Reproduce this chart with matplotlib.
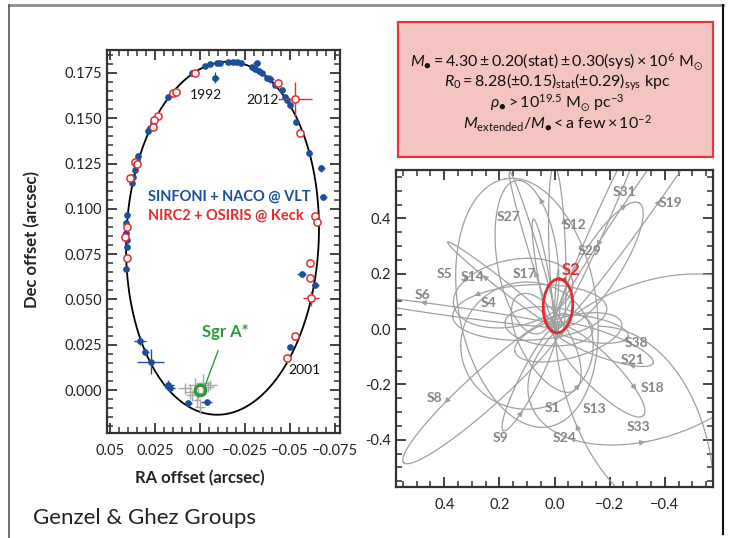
import numpy as np
import matplotlib
matplotlib.use("Agg")
import matplotlib.pyplot as plt
from matplotlib.lines import Line2D
from matplotlib.patches import Rectangle
from matplotlib.ticker import MultipleLocator

plt.rcParams["font.family"] = ["Lato", "DejaVu Sans"]
plt.rcParams["mathtext.fontset"] = "custom"
plt.rcParams["mathtext.rm"] = "Lato"
plt.rcParams["mathtext.it"] = "Lato:italic"
plt.rcParams["mathtext.bf"] = "Lato:bold"
plt.rcParams["mathtext.fallback"] = "stixsans"

BLUE = "#1c4f9a"
RED = "#e42b2f"
GREEN = "#2f9a3c"
GREY = "#a0a0a0"
LABEL_GREY = "#858585"
DOT = "\u25cf"

# --- S2 sky-projected orbit: centre, major, minor, angle of major axis (arcsec, deg)
s2_orbit = (-0.0125, 0.0838, 0.195, 0.107, 92.5)

# VLT astrometry (RA, Dec, errors) in arcsec
vlt_ra = [0.0046, -0.0028, -0.0056, -0.0093, -0.0112, -0.0156, -0.0184, -0.0206, -0.0227,
          -0.0291, -0.0306, -0.0325, -0.0343, -0.0371, -0.0390, -0.0417, -0.0455, -0.0473,
          -0.0486, -0.0501, -0.0534, -0.0608, -0.0673, -0.0686, -0.0084, -0.0316,
          0.0176, 0.0255, 0.0262, 0.0278, 0.0287, 0.0343, 0.0348, 0.0355, 0.0361, 0.0370,
          0.0376, 0.0404, 0.0411, 0.0411, 0.0407, 0.0405, 0.0411,
          -0.0566, -0.0640, -0.0501, 0.0333, 0.0305, 0.0274, 0.0176, 0.0167, 0.0065, -0.0038]
vlt_dec = [0.1750, 0.1789, 0.1798, 0.1803, 0.1807, 0.1810, 0.1810, 0.1809, 0.1803,
           0.1785, 0.1772, 0.1763, 0.1748, 0.1720, 0.1717, 0.1684, 0.1656, 0.1619,
           0.1601, 0.1573, 0.1481, 0.1310, 0.1224, 0.1064, 0.1724, 0.1803,
           0.1615, 0.1494, 0.1475, 0.1444, 0.1431, 0.1292, 0.1270, 0.1242, 0.1214, 0.1177,
           0.1141, 0.0966, 0.0923, 0.0865, 0.0828, 0.0791, 0.0666,
           0.0640, 0.0580, 0.0239, 0.0272, 0.0211, 0.0156, 0.0028, 0.0009, -0.0074, -0.0064]
vlt_ra_err = [0, 0, 0, 0, 0, 0, 0, 0, 0, 0, 0, 0, 0, 0, 0.002, 0, 0.0015, 0, 0, 0, 0,
              0.0015, 0.002, 0.002, 0.002, 0.002, 0, 0, 0, 0, 0, 0, 0, 0, 0, 0, 0,
              0, 0, 0, 0, 0, 0, 0.0025, 0.002, 0.0015, 0.0035, 0.002, 0.0075, 0.003,
              0.003, 0.002, 0.003]
vlt_dec_err = [0, 0, 0, 0, 0, 0, 0, 0, 0, 0, 0, 0, 0, 0, 0.002, 0, 0.0015, 0, 0, 0, 0,
               0.0015, 0.002, 0.0015, 0.003, 0.0015, 0, 0, 0, 0, 0, 0, 0, 0, 0, 0, 0,
               0, 0, 0, 0, 0, 0, 0.0015, 0.0015, 0.001, 0.0025, 0.002, 0.007, 0.003,
               0.002, 0.002, 0.001]

# Keck astrometry
keck_ra = [0.0027, 0.0148, 0.0135, 0.0231, 0.0255, 0.0263, 0.0361, 0.0352, 0.0389, 0.0407,
           0.0417, 0.0407, -0.0436, -0.0529, -0.0556, -0.0640, -0.0649, -0.0612, -0.0612,
           -0.0618, -0.0529, -0.0486]
keck_dec = [0.1750, 0.1638, 0.1647, 0.1512, 0.1490, 0.1450, 0.1260, 0.1248, 0.1168, 0.0902,
            0.0843, 0.0727, 0.1696, 0.1606, 0.1420, 0.0960, 0.0929, 0.0699, 0.0617,
            0.0506, 0.0300, 0.0178]
keck_ra_err = [0, 0, 0, 0, 0, 0, 0, 0, 0, 0, 0, 0, 0, 0.0093, 0, 0.002, 0, 0, 0, 0.0045, 0, 0]
keck_dec_err = [0, 0, 0, 0, 0, 0, 0, 0, 0, 0, 0, 0, 0, 0.0095, 0, 0, 0, 0.002, 0, 0.004, 0, 0]

# Sgr A* infrared flare positions
flare_ra = [0.0083, 0.0055, 0.0027, 0.0009, -0.0019, -0.0047, 0.0018, 0.0000, 0.0046, -0.0056]
flare_dec = [0.0009, -0.0009, 0.0028, -0.0018, 0.0037, 0.0018, -0.0055, -0.0092, -0.0028, 0.0028]
flare_ra_err = [0.004, 0.003, 0.004, 0.003, 0.004, 0.003, 0.002, 0.003, 0.003, 0.004]
flare_dec_err = [0.003, 0.004, 0.004, 0.003, 0.005, 0.003, 0.004, 0.004, 0.003, 0.003]

year_labels = ["1992", "2012", "2001"]
year_ra = [-0.0034, -0.0345, -0.0579]
year_dec = [0.163, 0.160, 0.011]

# --- S-star orbits (right panel): centre, major, minor, angle (closed ellipses)
orbit_names = ["S1", "S13", "S4", "S5", "S6", "S8", "S9", "S12", "S14", "S17", "S18",
               "S19", "S21", "S27", "S29", "S31", "S33", "S38", "", "", "", ""]
orbit_cx = [0.10, 0.10, 0.09, 0.15, 0.40, 0.25, 0.09, -0.01, 0.19, 0.075, -0.16,
            -0.36, -0.17, 0.10, -0.16, -0.17, -0.36, -0.12, 0.02, -0.05, 0.03, 0.04]
orbit_cy = [0.095, -0.06, 0.06, 0.13, 0.068, -0.215, -0.18, 0.28, 0.16, 0.28, -0.15,
            0.52, -0.055, 0.26, 0.37, 0.235, -0.11, 0.0, 0.01, -0.03, -0.05, 0.19]
orbit_major = [0.91, 0.48, 0.56, 0.44, 0.86, 0.80, 0.42, 0.62, 0.50, 0.60, 0.46,
               1.30, 0.40, 0.56, 0.82, 0.52, 0.95, 0.30, 0.32, 0.40, 0.40, 0.42]
orbit_minor = [0.50, 0.46, 0.20, 0.24, 0.035, 0.13, 0.07, 0.06, 0.035, 0.035, 0.12,
               0.10, 0.09, 0.22, 0.05, 0.15, 0.56, 0.09, 0.14, 0.15, 0.18, 0.04]
orbit_angle = [80, 0, -3, -12, 8, -42, -63, 88, 38, 73, 225,
               125, 200, 82, 114, 122, -20, 190, 5, -15, 60, 80]

# open orbit arcs: centre, major, minor, angle, parameter span
arc_names = ["S24", ""]
arc_cx = [-0.60, -0.16]
arc_cy = [0.05, -0.62]
arc_major = [1.20, 0.84]
arc_minor = [1.60, 1.26]
arc_angle = [0.0, 0.0]
arc_t0 = [-62, 90]
arc_t1 = [12, 185]

label_names = ["S1", "S2", "S4", "S5", "S6", "S8", "S9", "S12", "S13", "S14", "S17", "S18",
               "S19", "S21", "S24", "S27", "S29", "S31", "S33", "S38"]
label_x = [0.007, -0.058, 0.24, 0.40, 0.48, 0.436, 0.196, -0.073, -0.145, 0.298, 0.109, -0.356,
           -0.42, -0.284, -0.036, 0.167, -0.127, -0.255, -0.305, -0.298]
label_y = [-0.286, 0.213, 0.094, 0.20, 0.123, -0.25, -0.395, 0.376, -0.29, 0.188, 0.20, -0.213,
           0.455, -0.112, -0.395, 0.405, 0.282, 0.495, -0.355, -0.050]

# direction-of-motion arrows: orbit, anchor point, heading (data units)
arrow_orbit = ["S2", "S4", "S5", "S6", "S8", "S9", "S12", "S13", "S14", "S17", "S18",
               "S19", "S21", "S24", "S27", "S29", "S31", "S33", "S38"]
arrow_x = [-0.044, 0.287, 0.356, 0.473, 0.39, 0.12, -0.022, -0.127, 0.255, 0.073, -0.295,
           -0.356, -0.273, -0.076, 0.12, -0.167, -0.247, -0.31, -0.247]
arrow_y = [0.166, 0.127, 0.20, 0.094, -0.26, -0.30, 0.39, -0.24, 0.188, 0.20, -0.213,
           0.463, -0.141, -0.376, 0.43, 0.307, 0.463, -0.39, -0.04]
arrow_dx = [-0.3, 1, 1, 1, 1, -0.5, 0, 0, 1, 0.3, 0, -0.6, 1, 0.3, 0, 0.5, -1, -1, 0]
arrow_dy = [-1, 0, -0.5, 0, -1, 1, 1, 1, 1, 1, -1, 1, 0, 1, 1, -1, 0, 0, -1]


def orbit_xy(cx, cy, major, minor, ang, t_deg):
    t = np.radians(t_deg)
    a = np.radians(ang)
    u = 0.5 * major * np.cos(t)
    v = 0.5 * minor * np.sin(t)
    return cx + u * np.cos(a) - v * np.sin(a), cy + u * np.sin(a) + v * np.cos(a)


def style_axes(ax):
    for sp in ax.spines.values():
        sp.set_color("#333333")
        sp.set_linewidth(1.6)
    ax.tick_params(which="both", direction="in", top=True, right=True,
                   colors="#333333", labelcolor="#222222", labelsize=10.5)
    ax.tick_params(which="major", length=7, width=1.3)
    ax.tick_params(which="minor", length=4, width=1.1)


fig = plt.figure(figsize=(7.32, 5.38), dpi=100)

# slide frame
fig.add_artist(Line2D([0.0123, 0.9877], [0.9907, 0.9907], transform=fig.transFigure,
                      color="#8c8c8c", lw=2))
fig.add_artist(Line2D([0.0123, 0.0123], [0.0, 0.9907], transform=fig.transFigure,
                      color="#555555", lw=1.2))
fig.add_artist(Line2D([0.9877, 0.9877], [0.008, 0.9907], transform=fig.transFigure,
                      color="#111111", lw=1.5))

# ---------------- left panel: S2 orbit ----------------
ax1 = fig.add_axes([0.1462, 0.1952, 0.3183, 0.7119])
tt = np.linspace(0, 360, 721)
ex, ey = orbit_xy(*s2_orbit, tt)
ax1.plot(ex, ey, color="black", lw=1.3, zorder=2)

ax1.errorbar(flare_ra, flare_dec, xerr=flare_ra_err, yerr=flare_dec_err, fmt="none",
             ecolor="#a8a8a8", elinewidth=1.0, zorder=3)
ax1.errorbar(vlt_ra, vlt_dec, xerr=vlt_ra_err, yerr=vlt_dec_err, fmt="o", ms=3.8,
             color=BLUE, ecolor=BLUE, elinewidth=1.0, zorder=4)
ax1.errorbar(keck_ra, keck_dec, xerr=keck_ra_err, yerr=keck_dec_err, fmt="o", ms=5.2,
             mfc="white", mec=RED, mew=1.1, ecolor=RED, elinewidth=1.0, zorder=5)
ax1.plot([0], [0], "o", ms=7.5, mfc="none", mec=GREEN, mew=2.4, zorder=6)

for lab, x, y in zip(year_labels, year_ra, year_dec):
    ax1.text(x, y, lab, fontsize=10, ha="center", va="center", color="#111111")

ax1.annotate("Sgr A*", xy=(-0.0023, 0.0011), xytext=(-0.0139, 0.032), color=GREEN,
             fontsize=12, fontweight="bold", ha="center", va="center",
             arrowprops=dict(arrowstyle="-", color=GREEN, lw=1.0, shrinkA=6, shrinkB=1))
ax1.text(0.0289, 0.1065, "SINFONI + NACO @ VLT", color=BLUE, fontsize=10.5,
         fontweight="bold", ha="left", va="center")
ax1.text(0.0289, 0.0960, "NIRC2 + OSIRIS @ Keck", color=RED, fontsize=10.5,
         fontweight="bold", ha="left", va="center")

ax1.set_xlim(0.0517, -0.0778)
ax1.set_ylim(-0.0237, 0.1877)
ax1.set_xticks([0.05, 0.025, 0.0, -0.025, -0.05, -0.075])
ax1.set_xticklabels(["0.05", "0.025", "0.00", "\u22120.025", "\u22120.05", "\u22120.075"])
ax1.set_yticks([0.0, 0.025, 0.05, 0.075, 0.1, 0.125, 0.15, 0.175])
ax1.set_yticklabels(["0.000", "0.025", "0.050", "0.075", "0.100", "0.125", "0.150", "0.175"])
ax1.xaxis.set_minor_locator(MultipleLocator(0.005))
ax1.yaxis.set_minor_locator(MultipleLocator(0.005))
style_axes(ax1)
ax1.tick_params(axis="x", pad=8)

fig.text(200 / 732, 1 - 478 / 538, "RA offset (arcsec)", fontsize=12, fontweight="bold",
         ha="center", va="center", color="#222222")
fig.text(32 / 732, 1 - 240 / 538, "Dec offset (arcsec)", fontsize=12, fontweight="bold",
         ha="center", va="center", rotation=90, color="#222222")

# ---------------- summary box ----------------
fig.add_artist(Rectangle((0.5437, 0.7082), 0.4303, 0.2509, transform=fig.transFigure,
                         facecolor="#f4c4c0", edgecolor="#e0393e", lw=1.6))
box_lines = [
    "$M_{" + DOT + "} = 4.30 \\pm 0.20(\\mathrm{stat}) \\pm 0.30(\\mathrm{sys})"
    " \\times 10^{6}\\ \\mathrm{M}_{\\odot}$",
    "$R_{0} = 8.28(\\pm 0.15)_{\\mathrm{stat}}(\\pm 0.29)_{\\mathrm{sys}}\\ \\mathrm{kpc}$",
    "$\\rho_{" + DOT + "} > 10^{19.5}\\ \\mathrm{M}_{\\odot}\\ \\mathrm{pc}^{-3}$",
    "$M_{\\mathrm{extended}}/M_{" + DOT + "} < \\mathrm{a\\ few} \\times 10^{-2}$",
]
for i, line in enumerate(box_lines):
    fig.text(557 / 732, 1 - (62 + 20.5 * i) / 538, line, fontsize=11.5, ha="center",
             va="center", color="#111111")

# ---------------- right panel: S-star orbits ----------------
ax2 = fig.add_axes([0.541, 0.0948, 0.4331, 0.5892])
for cx, cy, mj, mn, an in zip(orbit_cx, orbit_cy, orbit_major, orbit_minor, orbit_angle):
    ax2.plot(*orbit_xy(cx, cy, mj, mn, an, tt), color=GREY, lw=0.9, zorder=2)
for cx, cy, mj, mn, an, t0, t1 in zip(arc_cx, arc_cy, arc_major, arc_minor, arc_angle,
                                      arc_t0, arc_t1):
    ts = np.linspace(t0, t1, 200)
    ax2.plot(*orbit_xy(cx, cy, mj, mn, an, ts), color=GREY, lw=0.9, zorder=2)
ax2.plot(*orbit_xy(*s2_orbit, tt), color=RED, lw=2.0, zorder=4)

orbit_lookup = {n: (cx, cy, mj, mn, an) for n, cx, cy, mj, mn, an in
                zip(orbit_names, orbit_cx, orbit_cy, orbit_major, orbit_minor, orbit_angle) if n}
for n, cx, cy, mj, mn, an in zip(arc_names, arc_cx, arc_cy, arc_major, arc_minor, arc_angle):
    if n:
        orbit_lookup[n] = (cx, cy, mj, mn, an)
orbit_lookup["S2"] = s2_orbit

for name, x, y, dx, dy in zip(arrow_orbit, arrow_x, arrow_y, arrow_dx, arrow_dy):
    px, py = orbit_xy(*orbit_lookup[name], tt)
    k = int(np.argmin((px - x) ** 2 + (py - y) ** 2))
    k2 = (k + 4) % len(tt)
    if (px[k2] - px[k]) * dx + (py[k2] - py[k]) * dy < 0:
        k2 = (k - 4) % len(tt)
    col = RED if name == "S2" else GREY
    ax2.annotate("", xy=(px[k2], py[k2]), xytext=(px[k], py[k]),
                 arrowprops=dict(arrowstyle="-|>", color=col, lw=0.8, mutation_scale=8,
                                 shrinkA=0, shrinkB=0), zorder=5)

for name, x, y in zip(label_names, label_x, label_y):
    if name == "S2":
        ax2.text(x, y, name, color=RED, fontsize=12, fontweight="bold", ha="center",
                 va="center", zorder=6)
    else:
        ax2.text(x, y, name, color=LABEL_GREY, fontsize=10, fontweight="bold", ha="center",
                 va="center", zorder=6)

ax2.set_xlim(0.575, -0.575)
ax2.set_ylim(-0.571, 0.575)
ax2.set_xticks([0.4, 0.2, 0.0, -0.2, -0.4])
ax2.set_xticklabels(["0.4", "0.2", "0.0", "\u22120.2", "\u22120.4"])
ax2.set_yticks([0.4, 0.2, 0.0, -0.2, -0.4])
ax2.set_yticklabels(["0.4", "0.2", "0.0", "-0.2", "-0.4"])
ax2.xaxis.set_minor_locator(MultipleLocator(0.05))
ax2.yaxis.set_minor_locator(MultipleLocator(0.05))
style_axes(ax2)
ax2.tick_params(axis="x", pad=8)

fig.text(33 / 732, 1 - 518 / 538, "Genzel & Ghez Groups", fontsize=16, fontweight="normal",
         ha="left", va="center", color="#222222")

fig.savefig("out.png", dpi=100)
